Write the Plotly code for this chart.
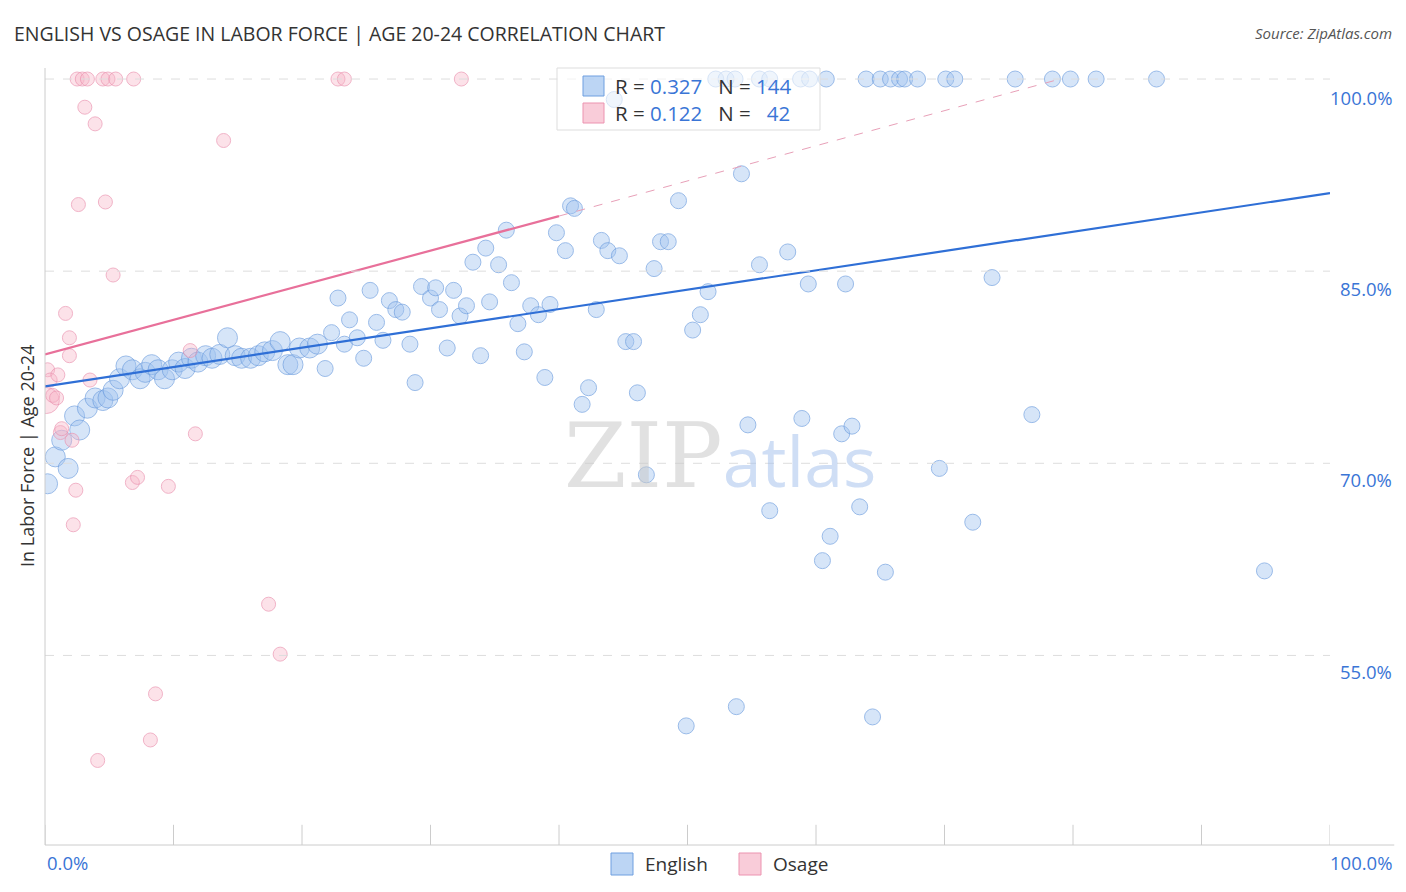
import plotly.graph_objects as go

eng_x = [0.2,0.8,1.3,1.8,2.3,2.7,3.3,3.9,4.5,4.9,5.3,5.8,6.3,6.8,7.4,7.8,8.3,8.8,9.3,9.9,10.4,10.9,11.4,11.9,12.5,13.0,13.6,14.2,14.8,15.3,16.0,16.6,17.1,17.7,18.3,18.9,19.3,19.8,20.6,21.2,21.8,22.3,22.8,23.3,23.7,24.3,24.8,25.3,25.8,26.3,26.8,27.3,27.8,28.4,28.8,29.3,30.0,30.4,30.7,31.3,31.8,32.3,32.8,33.3,33.9,34.3,34.6,35.3,35.9,36.3,36.8,37.3,37.8,38.4,38.9,39.3,39.8,40.5,40.9,41.2,41.8,42.3,42.9,43.3,43.8,44.7,45.2,45.8,46.1,46.8,47.4,47.9,48.5,49.3,50.4,51.0,51.6,54.2,54.7,55.6,56.4,57.8,58.9,59.4,60.5,61.1,62.0,62.3,62.8,63.4,64.4,65.4,69.6,72.2,73.7,76.8,94.9,49.9,53.8,
         52.2,53.0,53.7,55.6,56.4,58.8,59.5,60.8,63.9,65.0,65.8,66.5,66.9,67.9,70.1,70.8,75.5,78.4,79.8,81.8,86.5,44.3]
eng_y = [68.4,70.5,71.8,69.6,73.7,72.6,74.3,75.1,74.9,75.1,75.7,76.6,77.6,77.3,76.6,77.1,77.7,77.3,76.6,77.3,77.9,77.4,78.2,77.9,78.4,78.2,78.5,79.8,78.4,78.2,78.2,78.4,78.7,78.8,79.5,77.7,77.7,79.0,79.0,79.3,77.4,80.2,82.9,79.3,81.2,79.8,78.2,83.5,81.0,79.6,82.7,82.0,81.8,79.3,76.3,83.8,82.9,83.7,82.0,79.0,83.5,81.5,82.3,85.7,78.4,86.8,82.6,85.5,88.2,84.1,80.9,78.7,82.3,81.6,76.7,82.4,88.0,86.6,90.1,89.9,74.6,75.9,82.0,87.4,86.6,86.2,79.5,79.5,75.5,69.1,85.2,87.3,87.3,90.5,80.4,81.6,83.4,92.6,73.0,85.5,66.3,86.5,73.5,84.0,62.4,64.3,72.3,84.0,72.9,66.6,50.2,61.5,69.6,65.4,84.5,73.8,61.6,49.5,51.0,
         100,100,100,100,100,100,100,100,100,100,100,100,100,100,100,100,100,100,100,100,100,98.4]
osa_x = [0.1,0.2,0.4,0.6,0.9,1.0,1.2,1.3,1.6,1.9,1.9,2.1,2.2,2.4,2.6,2.5,2.9,3.1,3.3,3.5,3.9,4.1,4.5,4.7,4.9,5.3,5.5,6.8,6.9,7.2,8.2,8.6,9.6,11.3,11.7,13.9,17.4,18.3,22.8,23.3,32.4]
osa_y = [74.9,77.3,76.5,75.3,75.1,76.9,72.4,72.7,81.7,79.8,78.4,71.8,65.2,67.9,90.2,100,100,97.8,100,76.5,96.5,46.8,100,90.4,100,84.7,100,68.5,100,68.9,48.4,52.0,68.2,78.8,72.3,95.2,59.0,55.1,100,100,100]
eng_size = [16]*len(eng_x)
for i in range(40):
    eng_size[i] = 20
osa_size = [14]*len(osa_x)
osa_size[0] = 26

eng_line = ([0, 100], [76.0, 91.1])
osa_line = ([0, 40], [78.5, 89.3])
osa_dash = ([40, 79], [89.3, 100])

fig = go.Figure()
fig.add_trace(go.Scatter(x=eng_x, y=eng_y, mode="markers",
    marker=dict(size=eng_size, color="rgba(160,195,240,0.6)", line=dict(color="#6f9fe0", width=1)), showlegend=False))
fig.add_trace(go.Scatter(x=osa_x, y=osa_y, mode="markers",
    marker=dict(size=osa_size, color="rgba(247,182,201,0.55)", line=dict(color="#ec93b0", width=1)), showlegend=False))
fig.add_trace(go.Scatter(x=eng_line[0], y=eng_line[1], mode="lines", line=dict(color="#2f6fd6", width=2.2), showlegend=False))
fig.add_trace(go.Scatter(x=osa_line[0], y=osa_line[1], mode="lines", line=dict(color="#e8709a", width=2.2), showlegend=False))
fig.add_trace(go.Scatter(x=osa_dash[0], y=osa_dash[1], mode="lines", line=dict(color="#e8a0b8", width=1, dash="dash"), showlegend=False))

shapes = []
for v in [100, 85, 70, 55]:
    shapes.append(dict(type="line", xref="paper", yref="y", x0=0, x1=1, y0=v, y1=v, line=dict(color="#dddddd", width=1, dash="dash")))
for t in range(0, 101, 10):
    shapes.append(dict(type="line", xref="x", yref="paper", x0=t, x1=t, y0=0, y1=0.026, line=dict(color="#cccccc", width=1)))
shapes.append(dict(type="line", xref="paper", yref="paper", x0=0, x1=1.05, y0=0, y1=0, line=dict(color="#cccccc", width=1)))
shapes.append(dict(type="line", xref="paper", yref="paper", x0=0, x1=0, y0=0, y1=1, line=dict(color="#cccccc", width=1)))
def px(x): return (x-45)/1285
def py(y): return (845-y)/777
shapes.append(dict(type="rect", xref="paper", yref="paper", x0=px(557), x1=px(820), y0=py(130), y1=py(68), line=dict(color="#dddddd", width=1), fillcolor="rgba(255,255,255,0.6)"))
shapes.append(dict(type="rect", xref="paper", yref="paper", x0=px(583), x1=px(604), y0=py(96), y1=py(76), line=dict(color="#6f9fe0", width=1), fillcolor="rgba(160,195,240,0.7)"))
shapes.append(dict(type="rect", xref="paper", yref="paper", x0=px(583), x1=px(604), y0=py(123), y1=py(103), line=dict(color="#ec93b0", width=1), fillcolor="rgba(247,182,201,0.7)"))
shapes.append(dict(type="rect", xref="paper", yref="paper", x0=px(611), x1=px(633), y0=py(875), y1=py(853), line=dict(color="#6f9fe0", width=1), fillcolor="rgba(160,195,240,0.7)"))
shapes.append(dict(type="rect", xref="paper", yref="paper", x0=px(739), x1=px(761), y0=py(875), y1=py(853), line=dict(color="#ec93b0", width=1), fillcolor="rgba(247,182,201,0.7)"))

B = "#3a75d6"
ann = []
def a(x, y, text, size=16, color="#333", xa="left", **kw):
    ann.append(dict(xref="paper", yref="paper", x=px(x), y=py(y), text=text, showarrow=False,
                    font=dict(size=size, color=color, family="Open Sans, sans-serif"), xanchor=xa, yanchor="middle", **kw))
a(12, 33, "ENGLISH VS OSAGE IN LABOR FORCE | AGE 20-24 CORRELATION CHART", 19.5, "#333")
a(1394, 33, "<i>Source: ZipAtlas.com</i>", 15, "#555", "right")
a(613, 86, f"R = <span style='color:{B}'>0.327</span>   N = <span style='color:{B}'>144</span>", 20.5)
a(613, 113, f"R = <span style='color:{B}'>0.122</span>   N =   <span style='color:{B}'>42</span>", 20.5)
a(643, 864, "English", 19)
a(771, 864, "Osage", 19)
a(45, 862, "0.0%", 18.5, B)
a(1394, 862, "100.0%", 18.5, B, "right")
for lbl, yy in [("100.0%", 97), ("85.0%", 288), ("70.0%", 479), ("55.0%", 671)]:
    a(1394, yy, lbl, 18.5, B, "right")
a(27, 456, "In Labor Force | Age 20-24", 18, "#333", "center", textangle=-90)
ann.append(dict(xref="paper", yref="paper", x=px(720), y=py(455), showarrow=False, xanchor="center", yanchor="middle",
    text="<span style='font-family:DejaVu Serif;color:rgba(200,200,200,0.55);font-size:90px'>ZIP</span><span style='font-family:Open Sans;color:rgba(160,190,235,0.5);font-size:70px'>atlas</span>"))

fig.update_layout(width=1406, height=892, margin=dict(l=45, r=76, t=68, b=47),
    plot_bgcolor="white", paper_bgcolor="white", shapes=shapes, annotations=ann,
    xaxis=dict(range=[0, 100], showgrid=False, zeroline=False, showticklabels=False),
    yaxis=dict(range=[40.2, 100.86], showgrid=False, zeroline=False, showticklabels=False))
fig.write_html("out.html", config={"displayModeBar": False},
               post_script="document.body.style.margin='0';document.body.style.overflow='hidden';")
